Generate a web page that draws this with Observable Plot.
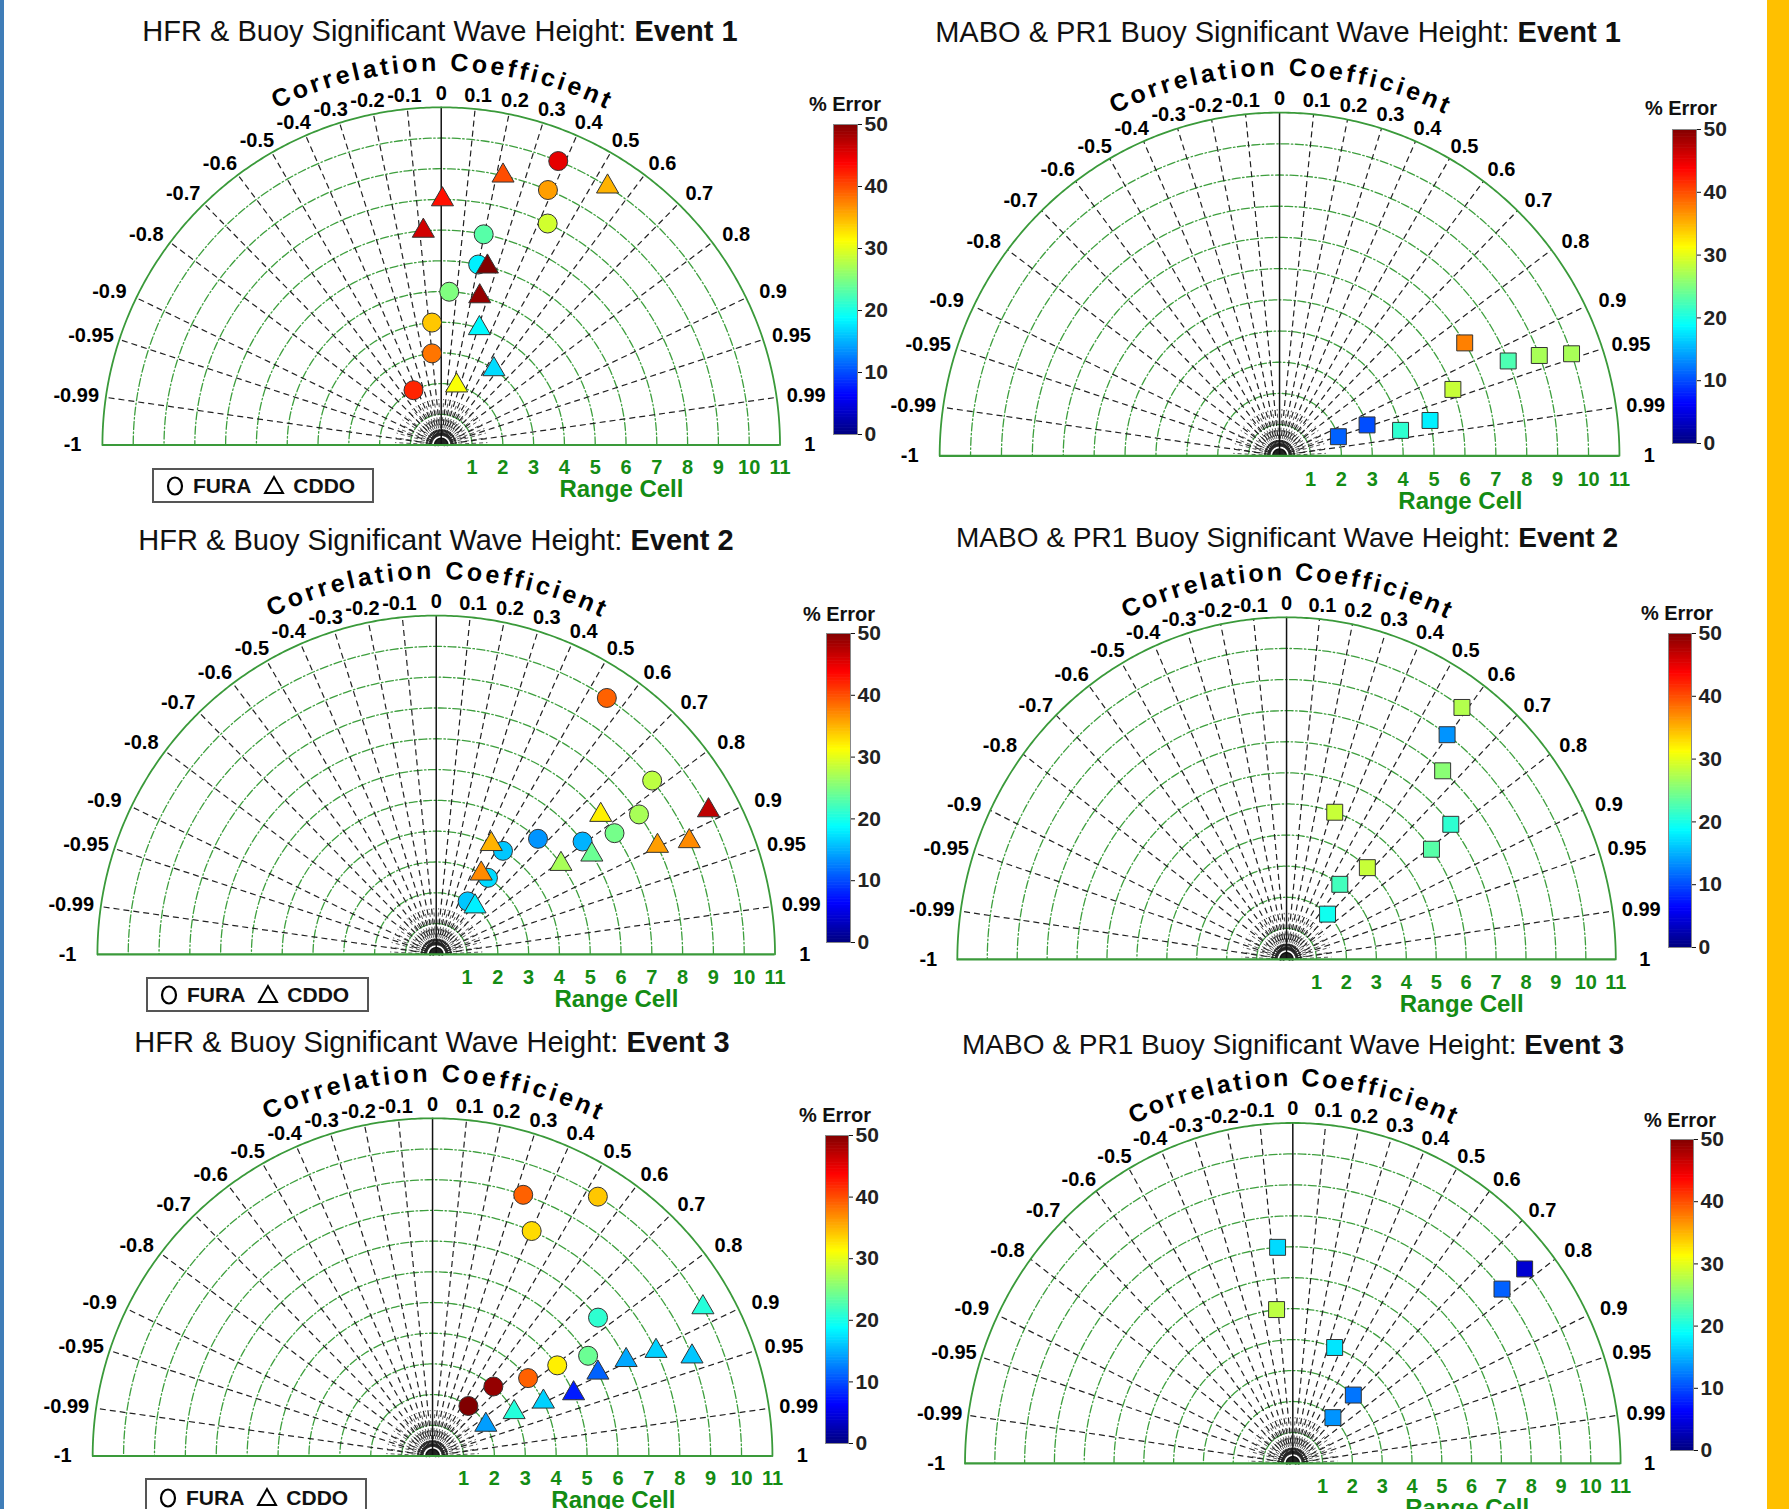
<!DOCTYPE html>
<html><head><meta charset="utf-8">
<script src="https://cdn.jsdelivr.net/npm/d3@7"></script>
<script src="https://cdn.jsdelivr.net/npm/@observablehq/plot@0.6"></script>
<style>
body{margin:0;background:#fff;}
#root{position:relative;width:1789px;height:1509px;overflow:hidden;background:#fff;font-family:"Liberation Sans",Arial,Helvetica,sans-serif;color:#111;}
.title{position:absolute;white-space:nowrap;transform:translate(-50%,-50%);}
.title b{font-weight:bold;}
.err{position:absolute;font-size:20px;font-weight:bold;transform:translate(-50%,-50%);white-space:nowrap;}
.legend{position:absolute;box-sizing:border-box;border:2px solid #555;background:#fff;font-size:21px;font-weight:bold;display:flex;align-items:center;padding-left:12px;white-space:nowrap;}
.abs{position:absolute;}
</style></head><body><div id="root"></div>
<script>
// ---------- data ----------
const corrTicks = [-1,-0.99,-0.95,-0.9,-0.8,-0.7,-0.6,-0.5,-0.4,-0.3,-0.2,-0.1,0,0.1,0.2,0.3,0.4,0.5,0.6,0.7,0.8,0.9,0.95,0.99,1];
const rangeCells = [1,2,3,4,5,6,7,8,9,10,11];
const errorTicks = [0,10,20,30,40,50];
const jetStops = [0,6.25,18.75,31.25,43.75,50];
const jetColors = ["#000080","#0000ff","#00ffff","#ffff00","#ff0000","#800000"];

// Event 1 - HFR
const e1HfrFuraCell = [10,9,8,7,6,5,4,3,2];
const e1HfrFuraCorr = [0.38,0.385,0.432,0.197,0.2,0.052,-0.075,-0.1,-0.45];
const e1HfrFuraErr  = [45,36,29,23,18,25,34,38,42];
const e1HfrCddoCell = [10,9,8,7,6,5,4,3,2];
const e1HfrCddoCorr = [0.54,0.223,0.005,-0.083,0.25,0.25,0.31,0.57,0.25];
const e1HfrCddoErr  = [35,40,43,46,50,49,18.5,17,31];
// Event 1 - MABO
const e1MaboCell = [2,3,4,5,6,7,8,9,10];
const e1MaboCorr = [0.952,0.944,0.979,0.974,0.935,0.856,0.925,0.934,0.945];
const e1MaboErr  = [11,10,21,18,28.5,37.5,22.5,27,27];
// Event 2 - HFR
const e2HfrFuraCell = [10,9,8,7,6,5,4,3,2];
const e2HfrFuraCorr = [0.554,0.779,0.823,0.827,0.792,0.661,0.542,0.56,0.51];
const e2HfrFuraErr  = [39,28,27,24.5,15,13.5,16,17,16];
const e2HfrCddoCell = [10,9,8,7,6,5,4,3,2];
const e2HfrCddoCorr = [0.884,0.913,0.898,0.763,0.842,0.81,0.447,0.487,0.63];
const e2HfrCddoErr  = [47,37,36,32,24,27,35,37,18];
// Event 2 - MABO
const e2MaboCell = [10,9,8,7,6,5,4,3,2];
const e2MaboCorr = [0.586,0.596,0.652,0.784,0.807,0.322,0.675,0.593,0.685];
const e2MaboErr  = [27.5,13.5,25.5,21,23,28.5,28.5,22,19.5];
// Event 3 - HFR
const e3HfrFuraCell = [10,9,8,7,6,5,4,3,2];
const e3HfrFuraCorr = [0.535,0.326,0.401,0.765,0.839,0.807,0.773,0.656,0.58];
const e3HfrFuraErr  = [34,39,33,21,24,32,39,49,50];
const e3HfrCddoCell = [10,9,8,7,6,5,4,3,2];
const e3HfrCddoCorr = [0.875,0.933,0.904,0.895,0.892,0.913,0.897,0.88,0.862];
const e3HfrCddoErr  = [20.5,16,16.5,14.5,11,7.5,16.5,20.5,14];
// Event 3 - MABO
const e3MaboCell = [10,9,7,5,4,3,2];
const e3MaboCorr = [0.778,0.78,-0.073,-0.109,0.351,0.677,0.673];
const e3MaboErr  = [4,11,17,28,17.5,12,13.5];

const hfrTitle = "HFR & Buoy Significant Wave Height: ";
const maboTitle = "MABO & PR1 Buoy Significant Wave Height: ";
const eventNames = ["Event 1","Event 2","Event 3"];
const axisTitle = "Correlation Coefficient";
const radialTitle = "Range Cell";
const errTitle = "% Error";
const legendNames = ["FURA","CDDO"];

// ---------- helpers ----------
const FONT = '"Liberation Sans", Arial, Helvetica, sans-serif';
const GREEN_TXT = "#148c14";
const RING = "#3e9f3e";
const OUTER = "#3a9a3a";
const deg = Math.PI/180;
const rows = (cells, corr, err) => cells.map((c,i)=>({cell:c, corr:corr[i], err:err[i]}));
const colorOpts = {type:"linear", domain: jetStops, range: jetColors, interpolate:"rgb", clamp:true};

const arc = (r, id, step=1) => d3.range(0, 180+step/2, step).map(a => ({id, x:r*Math.cos(a*deg), y:r*Math.sin(a*deg)}));
const ringPts = rangeCells.filter(c=>c<11).flatMap(c => arc(c, c));
const outerPts = arc(11, 11, 0.5);
const hubRingPts = [0.1, 0.2].flatMap(r => arc(r, r, 5));
const radialTicks = corrTicks.filter(c => Math.abs(c) < 1 && c !== 0)
  .map(c => ({x2: 11*c, y2: 11*Math.sqrt(1-c*c)}));
const hubBand = d3.range(1.5, 180, 3).map(a => ({a}));
const hubFine = d3.range(3, 180, 6).map(a => ({a}));

// curved "Correlation Coefficient" letters (angles from text metrics)
const ctx = document.createElement("canvas").getContext("2d");
ctx.font = `bold 25px ${FONT}`;
const chars = [...axisTitle];
const widths = chars.map(ch => ctx.measureText(ch).width);
const spacing = 3.6, arcRpx = 384, arcRcells = 12.45;
let acc = 0; const centers = [];
chars.forEach((ch,i) => { centers.push(acc + widths[i]/2); acc += widths[i] + spacing; });
const total = acc - spacing;
const letters = chars.map((ch,i) => {
  const ang = 90 - ((centers[i] - total/2) / arcRpx) / deg;
  return {ch, ang};
}).filter(d => d.ch !== " ");

const root = document.getElementById("root");

function polarPlot(p){
  const {ux, uy} = p;
  const xd = 13.4, yLow = -2.1, yHigh = 13.6;
  const W = 2*xd*ux, H = (yHigh - yLow)*uy;
  const marks = [
    Plot.line(ringPts, {x:"x", y:"y", z:"id", stroke:RING, strokeWidth:1.3, strokeDasharray:"8,2.5,1.5,2.5"}),
    Plot.link(hubFine, {x1:d=>0.55*Math.cos(d.a*deg), y1:d=>0.55*Math.sin(d.a*deg), x2:d=>1.5*Math.cos(d.a*deg), y2:d=>1.5*Math.sin(d.a*deg), stroke:"#444", strokeWidth:0.9, strokeDasharray:"4,3"}),
    Plot.link(hubBand, {x1:d=>0.3*Math.cos(d.a*deg), y1:d=>0.3*Math.sin(d.a*deg), x2:d=>0.5*Math.cos(d.a*deg), y2:d=>0.5*Math.sin(d.a*deg), stroke:"#333", strokeWidth:1.1, strokeDasharray:"3,1.5"}),
    Plot.line(hubRingPts, {x:"x", y:"y", z:"id", stroke:"#111", strokeWidth:2.6}),
    Plot.link(radialTicks, {x1:0, y1:0, x2:"x2", y2:"y2", stroke:"#222", strokeWidth:1.2, strokeDasharray:"6,4"}),
    Plot.ruleX([0], {y1:0, y2:11, stroke:"#111", strokeWidth:1.5}),
    Plot.line(outerPts, {x:"x", y:"y", stroke:OUTER, strokeWidth:1.8}),
    Plot.ruleY([0], {x1:-11, x2:11, stroke:OUTER, strokeWidth:2.2}),
    Plot.text(corrTicks, {x:c=>11.97*c, y:c=>11.45*Math.sqrt(1-c*c), text:c=>String(c), fontSize:20, fontWeight:"bold", fill:"#000", textAnchor:"middle", lineAnchor:"middle"}),
    Plot.text(letters, {x:d=>arcRcells*Math.cos(d.ang*deg), y:d=>arcRcells*Math.sin(d.ang*deg), text:"ch", rotate:d=>90-d.ang, fontSize:25, fontWeight:"bold", fill:"#000", textAnchor:"middle", lineAnchor:"middle"}),
    Plot.text(rangeCells, {x:d=>d, y:-0.75, text:d=>String(d), fontSize:20, fontWeight:"bold", fill:GREEN_TXT, textAnchor:"middle", lineAnchor:"middle"}),
    Plot.text([radialTitle], {x:5.85, y:-1.45, text:d=>d, fontSize:24, fontWeight:"bold", fill:GREEN_TXT, textAnchor:"middle", lineAnchor:"middle"}),
    ...p.series.map(s => Plot.dot(s.rows, {x:d=>d.cell*d.corr, y:d=>d.cell*Math.sqrt(1-d.corr*d.corr), fill:"err", symbol:s.symbol, r:s.r, stroke:"#333", strokeWidth:1}))
  ];
  const svg = Plot.plot({
    width: W, height: H, margin: 0,
    x: {domain:[-xd, xd], axis:null},
    y: {domain:[yLow, yHigh], axis:null},
    color: colorOpts,
    style: {fontFamily: FONT, overflow:"visible", background:"transparent"},
    marks
  });
  svg.classList.add("abs");
  svg.style.left = (p.cx - xd*ux) + "px";
  svg.style.top = (p.cy - yHigh*uy) + "px";
  root.appendChild(svg);
}

function colorbar(p){
  const [x, y, w, h] = p.cb;
  const svg = Plot.plot({
    width: w + 50, height: h + 20,
    marginLeft: 0, marginRight: 50, marginTop: 10, marginBottom: 10,
    x: {domain:[0,1], axis:null},
    y: {domain:[0,50], axis:null},
    color: colorOpts,
    style: {fontFamily: FONT, overflow:"visible", background:"transparent", fontSize:"21px"},
    marks: [
      Plot.rect(d3.range(0, 50, 0.25), {x1:0, x2:1, y1:d=>d, y2:d=>Math.min(50, d+0.35), fill:d=>d+0.125}),
      Plot.frame({stroke:"#888", strokeWidth:1}),
      Plot.axisY(errorTicks, {anchor:"right", tickSize:4, tickPadding:3, fontSize:21, fontWeight:"bold", fill:"#222", tickFormat:d=>String(d)})
    ]
  });
  svg.classList.add("abs");
  svg.style.left = x + "px";
  svg.style.top = (y - 10) + "px";
  root.appendChild(svg);
  const e = document.createElement("div");
  e.className = "err"; e.textContent = errTitle;
  e.style.left = p.err[0] + "px"; e.style.top = p.err[1] + "px";
  root.appendChild(e);
}

function title(p){
  const t = document.createElement("div");
  t.className = "title";
  t.style.left = p.tx + "px"; t.style.top = p.ty + "px"; t.style.fontSize = p.ts + "px";
  t.appendChild(document.createTextNode(p.title));
  const b = document.createElement("b"); b.textContent = p.event; t.appendChild(b);
  root.appendChild(t);
}

function legend(p){
  if (!p.legend) return;
  const [x, y, w, h] = p.legend;
  const d = document.createElement("div");
  d.className = "legend";
  d.style.left = x+"px"; d.style.top = y+"px"; d.style.width = w+"px"; d.style.height = h+"px";
  d.innerHTML =
    `<svg width="18" height="22" style="margin-right:9px"><ellipse cx="9" cy="11" rx="7" ry="8.5" fill="none" stroke="#000" stroke-width="2.2"/></svg>` +
    `<span>${legendNames[0]}</span>` +
    `<svg width="22" height="22" style="margin-left:12px;margin-right:8px"><path d="M11 2 L20 18 L2 18 Z" fill="none" stroke="#000" stroke-width="2"/></svg>` +
    `<span>${legendNames[1]}</span>`;
  root.appendChild(d);
}

const panels = [
  {title:hfrTitle, event:eventNames[0], ts:29, cx:440.4, cy:445, ux:30.8, uy:30.7, tx:440, ty:31,
   cb:[833,124,24,310], err:[845,104], legend:[152,468,222,35],
   series:[{rows:rows(e1HfrFuraCell,e1HfrFuraCorr,e1HfrFuraErr), symbol:"circle", r:9.5},
           {rows:rows(e1HfrCddoCell,e1HfrCddoCorr,e1HfrCddoErr), symbol:"triangle", r:8.2}]},
  {title:maboTitle, event:eventNames[0], ts:29, cx:1278.8, cy:455, ux:30.9, uy:31.2, tx:1278, ty:32,
   cb:[1672,129,24,314], err:[1681,108], legend:null,
   series:[{rows:rows(e1MaboCell,e1MaboCorr,e1MaboErr), symbol:"square", r:9}]},
  {title:hfrTitle, event:eventNames[1], ts:29, cx:435.9, cy:953.9, ux:30.8, uy:30.8, tx:436, ty:540,
   cb:[826,633,24,309], err:[839,614], legend:[146,977,223,35],
   series:[{rows:rows(e2HfrFuraCell,e2HfrFuraCorr,e2HfrFuraErr), symbol:"circle", r:9.5},
           {rows:rows(e2HfrCddoCell,e2HfrCddoCorr,e2HfrCddoErr), symbol:"triangle", r:8.2}]},
  {title:maboTitle, event:eventNames[1], ts:28, cx:1286.5, cy:959, ux:29.93, uy:31.1, tx:1287, ty:538,
   cb:[1668,633,23,314], err:[1677,613], legend:null,
   series:[{rows:rows(e2MaboCell,e2MaboCorr,e2MaboErr), symbol:"square", r:9}]},
  {title:hfrTitle, event:eventNames[2], ts:29, cx:432.3, cy:1456, ux:30.9, uy:30.7, tx:432, ty:1042,
   cb:[825,1135,23,308], err:[835,1115], legend:[145,1478,222,40],
   series:[{rows:rows(e3HfrFuraCell,e3HfrFuraCorr,e3HfrFuraErr), symbol:"circle", r:9.5},
           {rows:rows(e3HfrCddoCell,e3HfrCddoCorr,e3HfrCddoErr), symbol:"triangle", r:8.2}]},
  {title:maboTitle, event:eventNames[2], ts:28, cx:1292, cy:1462.7, ux:29.8, uy:30.95, tx:1293, ty:1045,
   cb:[1670,1139,23,311], err:[1680,1120], legend:null,
   series:[{rows:rows(e3MaboCell,e3MaboCorr,e3MaboErr), symbol:"square", r:9}]}
];

// frame stripes
const lb = document.createElement("div"); lb.className="abs";
Object.assign(lb.style, {left:"0px", top:"0px", width:"4px", height:"1509px", background:"#3f7db8"});
root.appendChild(lb);
const rb = document.createElement("div"); rb.className="abs";
Object.assign(rb.style, {left:"1767px", top:"0px", width:"22px", height:"1509px", background:"#ffc000"});
root.appendChild(rb);

panels.forEach(p => { title(p); polarPlot(p); colorbar(p); legend(p); });
</script></body></html>
